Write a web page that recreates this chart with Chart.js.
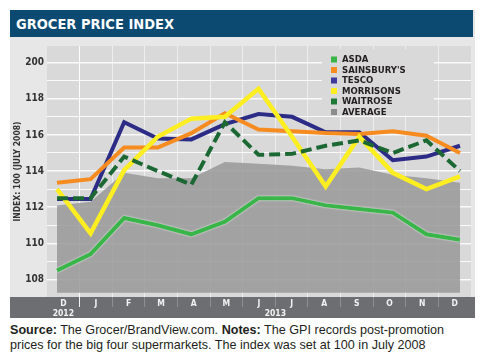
<!DOCTYPE html>
<html><head><meta charset="utf-8">
<script src="https://cdn.jsdelivr.net/npm/chart.js@4.4.0/dist/chart.umd.min.js"></script>
<style>
html,body{margin:0;padding:0;background:#fff;width:480px;height:356px;overflow:hidden;}
#frame{position:absolute;left:10px;top:10px;width:465px;height:308px;background:#e7e7e7;}
#title{position:absolute;left:0;top:0;width:463px;height:27px;background:#0c4a72;color:#fff;font:bold 14.5px "Liberation Sans Narrow","DejaVu Sans Condensed",sans-serif;line-height:28px;padding-left:6px;box-sizing:border-box;}
#wrap{position:absolute;left:0;top:27px;width:465px;height:281px;}
#note{position:absolute;left:10px;top:323px;font:12.6px "Liberation Sans",sans-serif;line-height:14.5px;color:#231f20;white-space:nowrap;}
</style></head>
<body>
<div id="frame">
  <div id="title">GROCER PRICE INDEX</div>
  <div id="wrap"><canvas id="c" width="465" height="281"></canvas></div>
</div>
<div id="note"><b>Source:</b> The Grocer/BrandView.com. <b>Notes:</b> The GPI records post-promotion<br>prices for the big four supermarkets. The index was set at 100 in July 2008</div>
<script>
const months = ['D','J','F','M','A','M','J','J','A','S','O','N','D'];
const yearLabels = ['2012','2013'];
const yearTickPos = [0, 6.5];
const asda       = [108.5,109.4,111.4,111.0,110.5,111.2,112.5,112.5,112.1,111.9,111.7,110.5,110.2];
const sainsburys = [113.35,113.55,115.3,115.3,116.1,117.2,116.3,116.2,116.1,116.05,116.2,115.95,115.0];
const tesco      = [112.45,112.45,116.7,115.8,115.75,116.6,117.15,117.0,116.15,116.15,114.6,114.8,115.4];
const morrisons  = [113.0,110.55,114.05,115.9,116.9,117.0,118.55,115.9,113.15,115.9,113.9,113.0,113.7];
const waitrose   = [112.5,112.5,114.8,114.0,113.25,116.7,114.9,114.95,115.4,115.7,115.0,115.7,114.0];
const average    = [112.1,112.3,113.9,113.6,113.6,114.5,114.4,114.3,114.1,114.2,113.8,113.6,113.35];
const yGridValues = [108,109,110,111,112,113,114,115,116,117,118,119,120];
const yTickValues = [108,110,112,114,116,118,120];
const yTickLabels = ['108','110','112','114','116','118','200'];
const yTitle = 'INDEX: 100 (JULY 2008)';

const NARROW = '"Liberation Sans Narrow","DejaVu Sans Condensed",sans-serif';
const pts = arr => arr.map((v,i)=>({x:i,y:v}));

const bgPlugin = {
  id:'bg',
  beforeDraw(chart){
    const {ctx, chartArea:a, width, height} = chart;
    ctx.save();
    ctx.fillStyle = '#d9d9d9';
    ctx.fillRect(a.left, a.top, a.right-a.left, a.bottom-a.top);
    ctx.fillStyle = '#6d6e71';
    ctx.fillRect(0, a.bottom, width, height-a.bottom);
    ctx.restore();
  }
};
const outlinePlugin = {
  id:'outline',
  beforeDatasetDraw(chart, args){
    const ds = chart.data.datasets[args.index];
    if (ds.outline){ chart.ctx.save(); chart.ctx.shadowColor='rgba(255,255,255,0.95)'; chart.ctx.shadowBlur=2; }
  },
  afterDatasetDraw(chart, args){
    const ds = chart.data.datasets[args.index];
    if (ds.outline){ chart.ctx.restore(); }
  }
};
const legendPlugin = {
  id:'boxLegend',
  beforeDatasetsDraw(chart){
    const ctx = chart.ctx, a = chart.chartArea;
    const x0 = a.left + 275, y0 = a.top + 3;
    ctx.save();
    ctx.fillStyle = '#d9d9d9';
    ctx.fillRect(x0, y0, 112, 66);
    ctx.font = 'bold 9.5px ' + NARROW;
    ctx.textBaseline = 'middle';
    chart.data.datasets.forEach((ds,i)=>{
      const cy = y0 + 10.5 + i*10.5;
      ctx.fillStyle = ds.legendColor;
      ctx.fillRect(x0+9, cy-3, 6, 6);
      ctx.fillStyle = '#231f20';
      ctx.fillText(ds.label, x0+20, cy+0.5);
    });
    ctx.restore();
  }
};

new Chart(document.getElementById('c'), {
  type:'line',
  data:{
    labels: months,
    datasets:[
      {label:'ASDA', data:pts(asda), borderColor:'#3ab54a', legendColor:'#3ab54a', borderWidth:4, outline:true, order:1},
      {label:"SAINSBURY'S", data:pts(sainsburys), borderColor:'#f68b1f', legendColor:'#f68b1f', borderWidth:4, order:3},
      {label:'TESCO', data:pts(tesco), borderColor:'#2c2b86', legendColor:'#3d3b9c', borderWidth:4, order:4},
      {label:'MORRISONS', data:pts(morrisons), borderColor:'#fcee21', legendColor:'#fcee21', borderWidth:4.5, order:2},
      {label:'WAITROSE', data:pts(waitrose), borderColor:'#1c6834', legendColor:'#1f7a3a', borderWidth:4, borderDash:[11,5], order:0},
      {label:'AVERAGE', data:pts(average), borderWidth:0, borderColor:'rgba(0,0,0,0)', backgroundColor:'rgba(152,152,152,0.86)', legendColor:'#8c8c8c', fill:{value:107.26}, order:10}
    ].map(d=>Object.assign({xAxisID:'xd', yAxisID:'y', tension:0, pointRadius:0, pointHoverRadius:0, borderJoinStyle:'miter', borderCapStyle:'butt'}, d))
  },
  options:{
    responsive:false, animation:false, devicePixelRatio:1,
    layout:{padding:{left:0, top:3, right:4, bottom:0}},
    plugins:{legend:{display:false}, tooltip:{enabled:false}},
    scales:{
      xd:{type:'linear', display:false, min:-0.298, max:12.328},
      x:{type:'category', position:'bottom', weight:0, offset:true,
        grid:{offset:true, lineWidth:1, drawTicks:true, tickLength:10, tickWidth:1,
          color:c=> c.index===1 ? 'rgba(255,255,255,0.95)' : (c.index>0 && c.index<13 ? 'rgba(255,255,255,0.55)' : 'rgba(0,0,0,0)'),
          tickColor:c=> c.index===1 ? '#f4f4f4' : (c.index>0 && c.index<13 ? '#8d8e91' : 'rgba(0,0,0,0)')},
        border:{display:false},
        ticks:{color:'#f2f2f2', font:{family:NARROW, size:8.5, weight:'bold'}, padding:-8, maxRotation:0, autoSkip:false},
        afterFit(s){ s.height = 11; }
      },
      x2:{type:'linear', position:'bottom', weight:1, min:-0.5, max:12.5,
        grid:{display:false, drawTicks:false}, border:{display:false},
        afterBuildTicks(s){ s.ticks = yearTickPos.map(v=>({value:v})); },
        ticks:{callback:(v,i)=>yearLabels[i], color:'#f2f2f2', font:{family:NARROW, size:8.5, weight:'bold'}, padding:0.5, maxRotation:0, autoSkip:false},
        afterFit(s){ s.height = 10; }
      },
      y:{type:'linear', min:107.03, max:120.92,
        afterBuildTicks(s){ s.ticks = yGridValues.map(v=>({value:v})); },
        ticks:{callback:v=>{const k=yTickValues.indexOf(v); return k<0?'':yTickLabels[k];}, color:'#333333', font:{family:NARROW, size:10, weight:'bold'}, padding:3, autoSkip:false},
        grid:{color:'rgba(255,255,255,0.85)', lineWidth:c=> (c.tick && yTickValues.includes(c.tick.value)) ? 1.6 : 1, drawTicks:false},
        border:{display:false},
        title:{display:true, text:yTitle, color:'#333333', font:{family:NARROW, size:8.5, weight:'bold'}, padding:{top:3, bottom:0}},
        afterFit(s){ s.width = 37; }
      }
    }
  },
  plugins:[bgPlugin, outlinePlugin, legendPlugin]
});
</script>
</body></html>
